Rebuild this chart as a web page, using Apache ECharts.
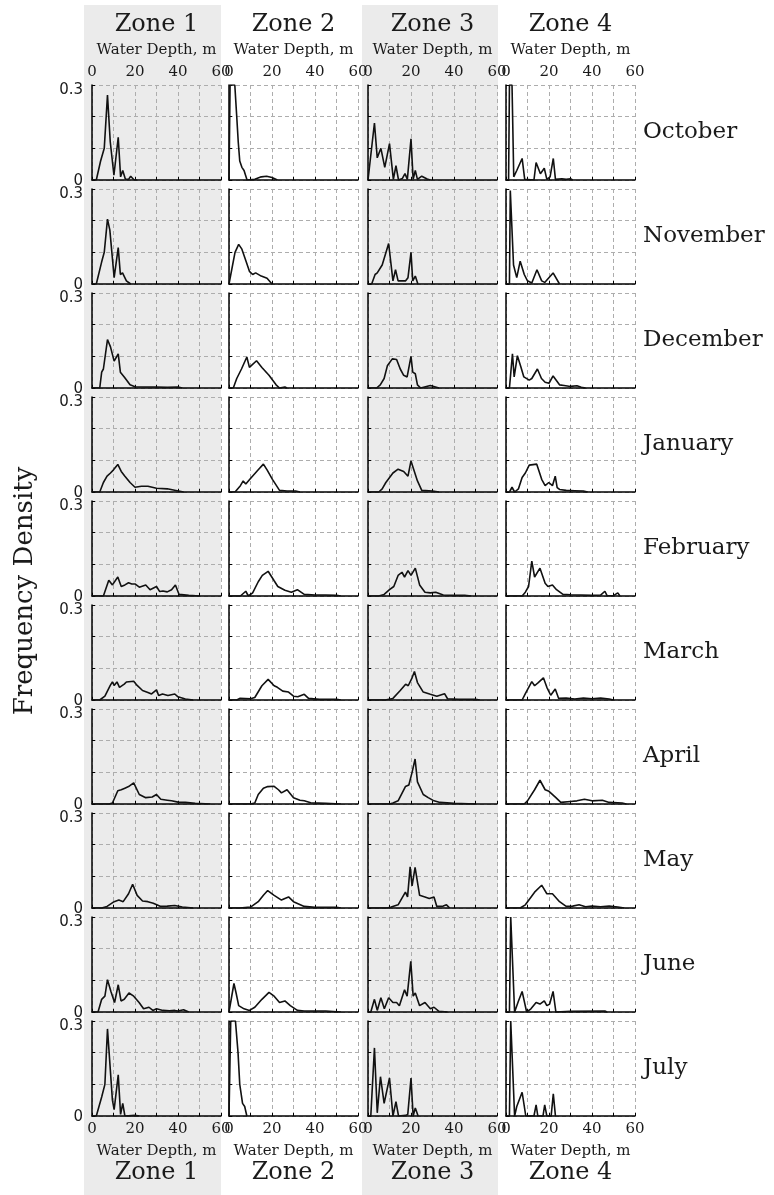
<!DOCTYPE html>
<html>
<head>
<meta charset="utf-8">
<script src="https://cdn.jsdelivr.net/npm/echarts@6/dist/echarts.min.js"></script>
<style>html,body{margin:0;padding:0;background:#fff}#chart{width:774px;height:1195px}</style>
</head>
<body>
<div id="chart"></div>
<script>
// ---------- data: [water depth (m), frequency density] per zone ----------
const zones = ['Zone 1', 'Zone 2', 'Zone 3', 'Zone 4'];
const months = ['October','November','December','January','February','March','April','May','June','July'];
const xTickValues = [0, 20, 40, 60];

const october = [
  [[0,0],[2,0],[4,0.06],[5.7,0.1],[7.2,0.268],[8.5,0.12],[10.2,0.015],[12.2,0.135],[13.3,0.01],[14.3,0.03],[15.5,0.003],[17,0.002],[18,0.012],[19.5,0.001],[21,0]],
  [[0,0],[0.5,0.3],[2.7,0.3],[3.6,0.2],[4.3,0.12],[5,0.06],[6,0.04],[7,0.03],[8.4,0],[12,0.002],[15,0.01],[17.5,0.012],[20,0.008],[22.5,0]],
  [[0,0],[1,0.06],[3,0.18],[4.3,0.07],[6,0.1],[7.8,0.04],[10,0.115],[11.8,0.002],[13,0.045],[14.2,0],[16,0.005],[17.2,0.02],[18.3,0.002],[20,0.13],[21,0.002],[22,0.03],[23,0.002],[25,0.012],[27.5,0.003],[29,0]],
  [[0,0],[1.2,0],[1.6,0.3],[2.8,0.3],[3.6,0.01],[5,0.03],[7.5,0.068],[8.7,0.002],[13,0],[14,0.055],[16,0.02],[17.8,0.037],[19,0.002],[20.5,0.01],[22,0.068],[23,0.002],[26,0.004],[28,0.002],[30,0.004],[31,0]]
];
const november = [
  [[0,0],[2,0],[4.5,0.07],[5.7,0.1],[7.2,0.205],[8.3,0.17],[10.3,0.02],[12.2,0.115],[13.2,0.03],[14.2,0.035],[16,0.01],[18,0]],
  [[0,0],[0.5,0],[2.8,0.1],[4.5,0.125],[6,0.11],[8,0.07],[9.5,0.04],[11,0.03],[12.4,0.035],[15,0.025],[17.7,0.018],[20,0]],
  [[0,0],[1.7,0],[3.3,0.03],[4.3,0.035],[6.6,0.06],[9.6,0.128],[11.6,0.01],[12.8,0.045],[14,0.01],[17.5,0.01],[18.6,0.02],[20,0.1],[20.8,0.01],[22,0.025],[23.2,0]],
  [[0,0],[1.6,0],[2,0.295],[2.5,0.29],[3.5,0.06],[5,0.02],[6.6,0.072],[8.5,0.03],[10,0.01],[12,0.003],[14.4,0.045],[16.6,0.01],[18,0.005],[21.9,0.035],[24.9,0]]
];
const december = [
  [[0,0],[3.6,0],[4.5,0.05],[5.3,0.06],[7.2,0.153],[8.6,0.13],[10.3,0.085],[12.2,0.108],[13.2,0.05],[15,0.035],[17.7,0.01],[20,0.004],[25,0.003],[30,0.003],[35,0.002],[40,0.003],[42,0]],
  [[0,0],[2,0],[3.6,0.03],[5.8,0.06],[8.3,0.098],[9.5,0.065],[12.8,0.086],[15.3,0.065],[18.6,0.04],[21.9,0.01],[23.5,0],[26,0.003],[27,0]],
  [[0,0],[4,0],[5.7,0.01],[7.5,0.03],[9,0.07],[11.3,0.092],[13.3,0.09],[15,0.06],[16.6,0.04],[18.2,0.035],[20,0.1],[20.8,0.05],[22,0.045],[23,0.01],[24.5,0],[29,0.008],[33,0]],
  [[0,0],[1.6,0],[3,0.108],[3.8,0.035],[5.3,0.102],[7,0.065],[8.3,0.035],[10.8,0.025],[12,0.03],[14.6,0.06],[16.5,0.03],[18.2,0.018],[20,0.015],[21.9,0.038],[24.9,0.01],[27,0.008],[30,0.005],[33,0.007],[35,0.002],[37,0]]
];
const january = [
  [[0,0],[3.6,0],[5.3,0.03],[7,0.05],[8.6,0.06],[10,0.07],[12,0.087],[13.6,0.065],[15.3,0.05],[17.7,0.03],[20,0.015],[23,0.018],[26,0.018],[30,0.012],[35,0.01],[39,0.005],[42.6,0]],
  [[0,0],[2.8,0],[5.3,0.02],[6.6,0.035],[7.8,0.025],[10.3,0.045],[13.6,0.07],[16,0.088],[17.7,0.07],[20.2,0.04],[23.5,0.005],[27,0.003],[31,0.003],[33,0]],
  [[0,0],[5,0],[6.6,0.01],[8.3,0.03],[11.6,0.06],[14,0.072],[16.6,0.065],[18.6,0.05],[20,0.098],[21.3,0.07],[23,0.035],[25,0.005],[30,0.003],[33,0]],
  [[0,0],[1.6,0],[2.8,0.015],[4,0],[5.8,0.01],[7.5,0.046],[9,0.06],[10.8,0.085],[14.3,0.088],[16.6,0.04],[18.2,0.02],[19.9,0.03],[21.6,0.02],[22.9,0.05],[23.8,0.014],[24.9,0.008],[28,0.005],[32,0.004],[36,0.003],[38,0]]
];
const february = [
  [[0,0],[5.3,0],[7.8,0.05],[9.5,0.035],[12,0.06],[13.6,0.03],[15.3,0.035],[17,0.042],[18.5,0.038],[20,0.038],[22,0.028],[25,0.035],[27,0.02],[30,0.03],[31.5,0.014],[33,0.016],[35,0.013],[37,0.02],[38.8,0.035],[40.5,0.005],[45,0.002],[50,0]],
  [[0,0],[5.3,0],[7.8,0.015],[9,0],[11,0.01],[13.6,0.045],[15.5,0.065],[18.2,0.078],[21,0.048],[22.7,0.03],[26,0.018],[29,0.012],[31.8,0.02],[35,0.005],[40,0.003],[45,0.003],[50,0.002],[52,0]],
  [[0,0],[5,0],[7.5,0.005],[10,0.02],[12,0.03],[14,0.065],[15.8,0.075],[17,0.06],[18.6,0.08],[20,0.065],[22,0.088],[24,0.035],[26.5,0.012],[29,0.01],[31.5,0.012],[35,0.003],[40,0.002],[45,0.002],[48,0]],
  [[0,0],[7.5,0],[9,0.012],[10.5,0.03],[12,0.11],[13.3,0.06],[15.8,0.088],[18.2,0.04],[19.5,0.03],[21.6,0.035],[23.5,0.02],[26.5,0.005],[30,0.004],[35,0.003],[40,0.002],[44,0.003],[46,0.015],[47,0.001],[50,0.001],[52,0.01],[53,0]]
];
const march = [
  [[0,0],[3.6,0],[6,0.012],[8.5,0.046],[9.5,0.057],[10.3,0.046],[11.6,0.057],[12.8,0.04],[15,0.05],[16,0.057],[19.4,0.059],[21,0.046],[23.5,0.03],[26,0.024],[27.7,0.019],[30,0.032],[31,0.014],[32.8,0.019],[35.3,0.014],[38.5,0.019],[40,0.01],[43.4,0.003],[47,0]],
  [[0,0],[3.6,0],[5,0.005],[10,0.004],[12,0.008],[15.3,0.045],[18.2,0.065],[21,0.045],[22.5,0.04],[25,0.028],[27.7,0.025],[30,0.012],[32,0.01],[35,0.018],[37,0.005],[42,0.002],[50,0.002],[52,0]],
  [[0,0],[8,0],[11.6,0.005],[15,0.03],[17.5,0.05],[18.7,0.045],[20.5,0.07],[21.6,0.09],[23,0.055],[25.7,0.025],[29,0.018],[32,0.012],[35.6,0.02],[37,0.004],[42,0.002],[50,0.002],[52,0]],
  [[0,0],[7.5,0],[9,0.02],[12,0.058],[13.3,0.045],[15,0.055],[17.4,0.07],[19,0.04],[20.8,0.015],[22.9,0.035],[24.5,0.005],[28,0.006],[32,0.003],[36,0.006],[40,0.004],[44,0.006],[48,0.003],[50,0]]
];
const april = [
  [[0,0],[8,0],[9.5,0.003],[12,0.042],[13.6,0.045],[15.3,0.05],[17,0.055],[19.4,0.067],[22,0.03],[25,0.02],[28,0.022],[30,0.03],[32,0.015],[35,0.012],[37,0.01],[40,0.006],[43.4,0.005],[48,0.002],[55,0]],
  [[0,0],[10,0],[12,0.003],[13.6,0.03],[16,0.05],[18,0.055],[21,0.056],[23,0.045],[24.4,0.035],[27,0.045],[30,0.02],[33,0.012],[35,0.01],[38,0.004],[45,0.002],[52,0]],
  [[0,0],[10,0],[11.6,0.003],[14,0.01],[17.4,0.055],[19,0.06],[20.5,0.1],[21.9,0.142],[23,0.07],[25.7,0.03],[28,0.02],[30.7,0.01],[33.5,0.005],[40,0.002],[50,0]],
  [[0,0],[8.5,0],[10,0.01],[13.3,0.045],[15.8,0.075],[18.2,0.045],[20,0.04],[23.2,0.02],[25.5,0.005],[30,0.008],[33,0.01],[36.5,0.015],[40,0.01],[44.8,0.012],[48,0.005],[54,0.003],[56,0]]
];
const may = [
  [[0,0],[4.5,0],[7,0.005],[10.3,0.02],[12.5,0.025],[14.5,0.02],[17,0.045],[18.9,0.075],[21,0.04],[23.5,0.022],[26,0.02],[28.5,0.015],[32,0.005],[35,0.006],[38.5,0.008],[42,0.003],[47,0]],
  [[0,0],[5,0],[10,0.003],[13.6,0.02],[16,0.04],[18,0.055],[21,0.04],[24.4,0.025],[26,0.03],[27.7,0.035],[30,0.02],[35,0.005],[40,0.002],[50,0.002],[52,0]],
  [[0,0],[9,0],[10.8,0.003],[14,0.01],[17.4,0.05],[18.4,0.035],[19.6,0.13],[20.5,0.07],[21.9,0.128],[24,0.04],[26.5,0.035],[28.5,0.03],[30.7,0.035],[32,0.005],[35,0.006],[36.5,0.01],[38,0]],
  [[0,0],[6.6,0],[9,0.01],[13.3,0.05],[16.6,0.072],[19,0.045],[21.6,0.045],[24.9,0.02],[28,0.005],[31,0.006],[34,0.01],[37,0.004],[40,0.006],[44,0.004],[48,0.006],[52,0.003],[55,0]]
];
const june = [
  [[0,0],[2.8,0],[4.5,0.04],[6,0.05],[7.2,0.102],[8.8,0.065],[10.5,0.03],[12.2,0.086],[13.5,0.035],[15,0.04],[17.2,0.06],[19.4,0.05],[21.9,0.03],[24,0.01],[26.5,0.015],[28.3,0.005],[30,0.01],[33,0.005],[36,0.004],[38.5,0.005],[40,0.003],[42.6,0.007],[45,0]],
  [[0,0],[0.6,0],[2.3,0.09],[3.3,0.06],[4.5,0.02],[7,0.01],[9.5,0.005],[12,0.015],[15.3,0.04],[18.6,0.062],[21,0.05],[23.5,0.03],[26,0.035],[28.5,0.02],[31.8,0.005],[35,0.003],[45,0.003],[52,0]],
  [[0,0],[1.3,0],[3,0.04],[4.3,0.005],[6,0.045],[7.6,0.01],[9.6,0.045],[11.6,0.03],[13.3,0.03],[14.6,0.02],[17,0.07],[18.2,0.05],[19.9,0.16],[21,0.05],[22,0.06],[24,0.02],[26.5,0.03],[29,0.01],[30.7,0.015],[33,0.002],[37,0]],
  [[0,0],[1.6,0],[2.2,0.3],[3,0.3],[4,0],[5.8,0.035],[7.5,0.065],[9.6,0],[11.6,0.01],[14,0.03],[15.8,0.025],[17.8,0.035],[19,0.02],[20.3,0.025],[21.9,0.065],[23.2,0],[30,0.002],[46,0.003],[47,0]]
];
const july = [
  [[0,0],[2,0],[4.5,0.06],[6,0.1],[7.2,0.275],[9.5,0.05],[10.3,0.02],[12.2,0.13],[13.3,0.005],[14.3,0.04],[15.3,0],[20,0.002],[22,0]],
  [[0,0],[0.6,0],[0.8,0.3],[3,0.3],[4.2,0.2],[5,0.1],[6.3,0.04],[7.3,0.03],[8.3,0]],
  [[0,0],[1.3,0],[3,0.215],[4.3,0.01],[5.8,0.124],[7.5,0.04],[10,0.12],[11.6,0],[13,0.045],[14.2,0],[17.5,0.002],[18.5,0.005],[20,0.12],[21,0],[22,0.025],[23.3,0]],
  [[0,0],[1.6,0],[2.2,0.3],[3,0.3],[4,0],[5,0.03],[7.5,0.075],[9.2,0],[13,0],[14,0.035],[14.8,0],[17.2,0],[18,0.035],[19,0],[21,0],[22,0.07],[23,0]]
];
const monthData = [october, november, december, january, february, march, april, may, june, july];

// ---------- layout ----------
const colLeft = [92, 229, 368, 506];
const plotW = 129, plotH = 95, rowTop0 = 85, rowStep = 104;
const serif = 'DejaVu Serif';
const textColor = '#1a1a1a';

const grids = [], xAxes = [], yAxes = [], series = [];
const gridLine = { show: true, lineStyle: { color: '#adadad', type: [4, 3], width: 1 } };
const xFmt = v => (xTickValues.indexOf(Math.round(v)) >= 0 ? String(Math.round(v)) : '');

for (let r = 0; r < months.length; r++) {
  for (let c = 0; c < zones.length; c++) {
    const gi = grids.length;
    grids.push({ left: colLeft[c], top: rowTop0 + r * rowStep, width: plotW, height: plotH });
    xAxes.push({
      type: 'value', gridIndex: gi, min: 0, max: 60, interval: 10, position: 'bottom',
      axisLine: { show: true, onZero: false, lineStyle: { color: '#000', width: 1.5 } },
      axisTick: { show: true, inside: true, length: 3, lineStyle: { color: '#000', width: 1 } },
      axisLabel: { show: r === months.length - 1, formatter: xFmt, fontFamily: serif, fontSize: 15, color: textColor, margin: 6, showMinLabel: true, showMaxLabel: true, hideOverlap: false },
      splitLine: gridLine
    });
    yAxes.push({
      type: 'value', gridIndex: gi, min: 0, max: 0.3, interval: 0.1,
      axisLine: { show: true, onZero: false, lineStyle: { color: '#000', width: 1.5 } },
      axisTick: { show: true, inside: true, length: 3, lineStyle: { color: '#000', width: 1 } },
      axisLabel: {
        show: c === 0, fontFamily: 'DejaVu Sans', fontSize: 15, color: textColor, margin: 9,
        formatter: v => (Math.abs(v - 0.3) < 1e-6 ? '{t|0.3}' : (Math.abs(v) < 1e-6 ? '{b|0}' : '')),
        rich: {
          t: { fontFamily: 'DejaVu Sans', fontSize: 15, color: textColor, padding: [11, 0, 0, 0] },
          b: { fontFamily: 'DejaVu Sans', fontSize: 15, color: textColor, padding: [2, 0, 0, 0] }
        }
      },
      splitLine: gridLine
    });
    series.push({
      type: 'line', xAxisIndex: gi, yAxisIndex: gi, data: monthData[r][c],
      showSymbol: false, symbol: 'none', clip: true, z: 5,
      lineStyle: { color: '#111', width: 1.6 }
    });
  }
}
// top tick labels for the first row
for (let c = 0; c < zones.length; c++) {
  xAxes.push({
    type: 'value', gridIndex: c, min: 0, max: 60, interval: 10, position: 'top',
    axisLine: { show: false }, axisTick: { show: false }, splitLine: { show: false },
    axisLabel: { show: true, formatter: xFmt, fontFamily: serif, fontSize: 15, color: textColor, margin: 5, showMinLabel: true, showMaxLabel: true, hideOverlap: false }
  });
}

// ---------- texts & background bands ----------
const graphics = [];
[[84, 137], [362, 136]].forEach(([x, w]) => {
  graphics.push({ type: 'rect', z: -10, shape: { x: x, y: 5, width: w, height: 1190 }, style: { fill: '#ebebeb' }, silent: true });
});
for (let c = 0; c < zones.length; c++) {
  const cx = colLeft[c] + plotW / 2;
  graphics.push({ type: 'text', x: cx, y: 25, style: { text: zones[c], fontFamily: serif, fontSize: 24, fill: textColor, align: 'center', verticalAlign: 'middle' } });
  graphics.push({ type: 'text', x: cx, y: 1173, style: { text: zones[c], fontFamily: serif, fontSize: 24, fill: textColor, align: 'center', verticalAlign: 'middle' } });
  graphics.push({ type: 'text', x: cx, y: 50, style: { text: 'Water Depth, m', fontFamily: serif, fontSize: 15, fill: textColor, align: 'center', verticalAlign: 'middle' } });
  graphics.push({ type: 'text', x: cx, y: 1151, style: { text: 'Water Depth, m', fontFamily: serif, fontSize: 15, fill: textColor, align: 'center', verticalAlign: 'middle' } });
}
for (let r = 0; r < months.length; r++) {
  graphics.push({ type: 'text', x: 643, y: rowTop0 + r * rowStep + plotH / 2, style: { text: months[r], fontFamily: serif, fontSize: 23, fill: textColor, align: 'left', verticalAlign: 'middle' } });
}
graphics.push({ type: 'text', x: 25, y: 591, rotation: Math.PI / 2, style: { text: 'Frequency Density', fontFamily: serif, fontSize: 26, fill: textColor, align: 'center', verticalAlign: 'middle' } });

const chart = echarts.init(document.getElementById('chart'), null, { renderer: 'canvas' });
chart.setOption({
  animation: false,
  backgroundColor: '#fff',
  graphic: { elements: graphics },
  grid: grids, xAxis: xAxes, yAxis: yAxes, series: series
});
</script>
</body>
</html>
